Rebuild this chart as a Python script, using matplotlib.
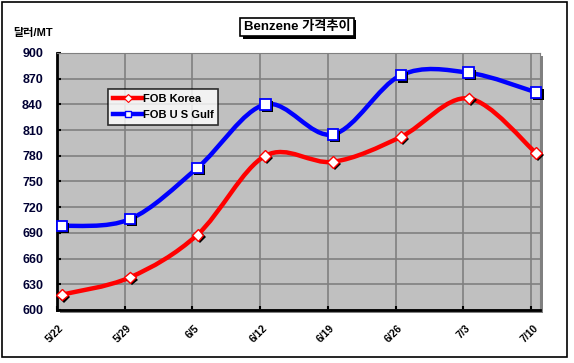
import numpy as np
import matplotlib
matplotlib.use("Agg")
import matplotlib.pyplot as plt
import matplotlib.patheffects as pe
from matplotlib.path import Path
from matplotlib.patches import PathPatch, Rectangle

# data
dates = ['5/22', '5/29', '6/5', '6/12', '6/19', '6/26', '7/3', '7/10']
fob_korea = [618, 638, 688, 780, 773, 802, 847, 783]
fob_usgulf = [698, 706, 766, 840, 805, 874, 877, 854]
yticks = list(range(600, 901, 30))

fonts = ['Liberation Sans', 'Noto Sans CJK KR', 'DejaVu Sans']
plt.rcParams['font.family'] = fonts


def smooth_path(xs, ys):
	# excel-style smoothed line as cubic bezier segments
	pts = np.column_stack([xs, ys]).astype(float)
	n = len(pts)
	verts = [pts[0]]
	codes = [Path.MOVETO]
	for i in range(n - 1):
		p0 = pts[max(i - 1, 0)]
		p1 = pts[i]
		p2 = pts[i + 1]
		p3 = pts[min(i + 2, n - 1)]
		c1 = p1 + (p2 - p0) / 6.0
		c2 = p2 - (p3 - p1) / 6.0
		verts += [c1, c2, p2]
		codes += [Path.CURVE4] * 3
	return Path(verts, codes)


fig = plt.figure(figsize=(5.74, 3.63), dpi=100)
fig.patch.set_facecolor('white')

# outer frame
fig.patches.append(Rectangle((2 / 574, 6 / 363), 565 / 574, 355 / 363, transform=fig.transFigure,
	fill=False, edgecolor='black', linewidth=1.2, zorder=-2))

left, bottom, width, height = 57 / 574, 1 - 310 / 363, 483 / 574, 257 / 363
# plot area shadow
fig.patches.append(Rectangle((left + 3 / 574, bottom - 3 / 363), width, height, transform=fig.transFigure,
	facecolor='#808080', edgecolor='none', zorder=-1))
ax = fig.add_axes([left, bottom, width, height])
ax.set_zorder(1)
ax.set_facecolor('#C0C0C0')

x = np.arange(len(dates)) + 0.075

shadow = [pe.SimplePatchShadow(offset=(1.5, -1.5), shadow_rgbFace='black', alpha=1.0), pe.Normal()]

ax.add_patch(PathPatch(smooth_path(x, fob_usgulf), fill=False, edgecolor='#0000FF', linewidth=3.2,
	zorder=3, capstyle='round'))
ax.add_patch(PathPatch(smooth_path(x, fob_korea), fill=False, edgecolor='#FF0000', linewidth=3.2,
	zorder=3, capstyle='round'))
ax.plot(x, fob_usgulf, linestyle='none', marker='s', markersize=7.5, markerfacecolor='white',
	markeredgecolor='#0000FF', markeredgewidth=1.3, zorder=4, path_effects=shadow, clip_on=False)
ax.plot(x, fob_korea, linestyle='none', marker='D', markersize=6, markerfacecolor='white',
	markeredgecolor='#FF0000', markeredgewidth=1.0, zorder=4, path_effects=shadow, clip_on=False)

# legend proxies
ax.plot([], [], color='#FF0000', linewidth=3.2, marker='D', markersize=4, markerfacecolor='white',
	markeredgecolor='#FF0000', markeredgewidth=0.8, label='FOB Korea')
ax.plot([], [], color='#0000FF', linewidth=3.2, marker='s', markersize=5, markerfacecolor='white',
	markeredgecolor='#0000FF', markeredgewidth=1.0, label='FOB U S Gulf')
leg = ax.legend(loc='upper left', bbox_to_anchor=(0.106, 0.86), frameon=True, fancybox=False,
	prop={'family': fonts, 'size': 8, 'weight': 'bold'}, handlelength=2.6, handletextpad=0.05,
	borderpad=0.45, labelspacing=0.55, borderaxespad=0)
leg.get_frame().set_edgecolor('black')
leg.get_frame().set_linewidth(1.2)
leg.get_frame().set_facecolor('white')

ax.set_xlim(0, 7.13)
ax.set_ylim(600, 900)
ax.set_yticks(yticks)
ax.set_xticks(np.arange(len(dates)))
ax.set_xticklabels([])
for i, d in enumerate(dates):
	ax.text(x[i] - 0.05, 585, d, rotation=45, ha='right', va='top', fontsize=7.5,
		fontweight='bold', rotation_mode='anchor', clip_on=False)
ax.grid(True, color='#808080', linewidth=1.2, linestyle='-')
ax.set_axisbelow(True)
ax.tick_params(axis='both', direction='in', length=3, width=1.5, colors='black')
ax.tick_params(axis='y', labelsize=9, pad=10)
for t in ax.get_yticklabels():
	t.set_fontweight('bold')
	t.set_color('#000033')
for s in ['left', 'bottom']:
	ax.spines[s].set_linewidth(2)
for s in ['top', 'right']:
	ax.spines[s].set_color('#808080')

fig.text(13 / 574, 1 - 33 / 363, '달러/MT', fontsize=8, fontweight='bold', va='center', ha='left')
title = fig.text(297 / 574, 1 - 27 / 363, 'Benzene 가격추이', fontsize=9.5, fontweight='bold', va='center',
	ha='center', bbox=dict(boxstyle='square,pad=0.25', facecolor='white', edgecolor='black', linewidth=1.2))
title.get_bbox_patch().set_path_effects([pe.SimplePatchShadow(offset=(2, -2), shadow_rgbFace='black',
	alpha=1.0), pe.Normal()])

plt.savefig('out.png', dpi=100)
